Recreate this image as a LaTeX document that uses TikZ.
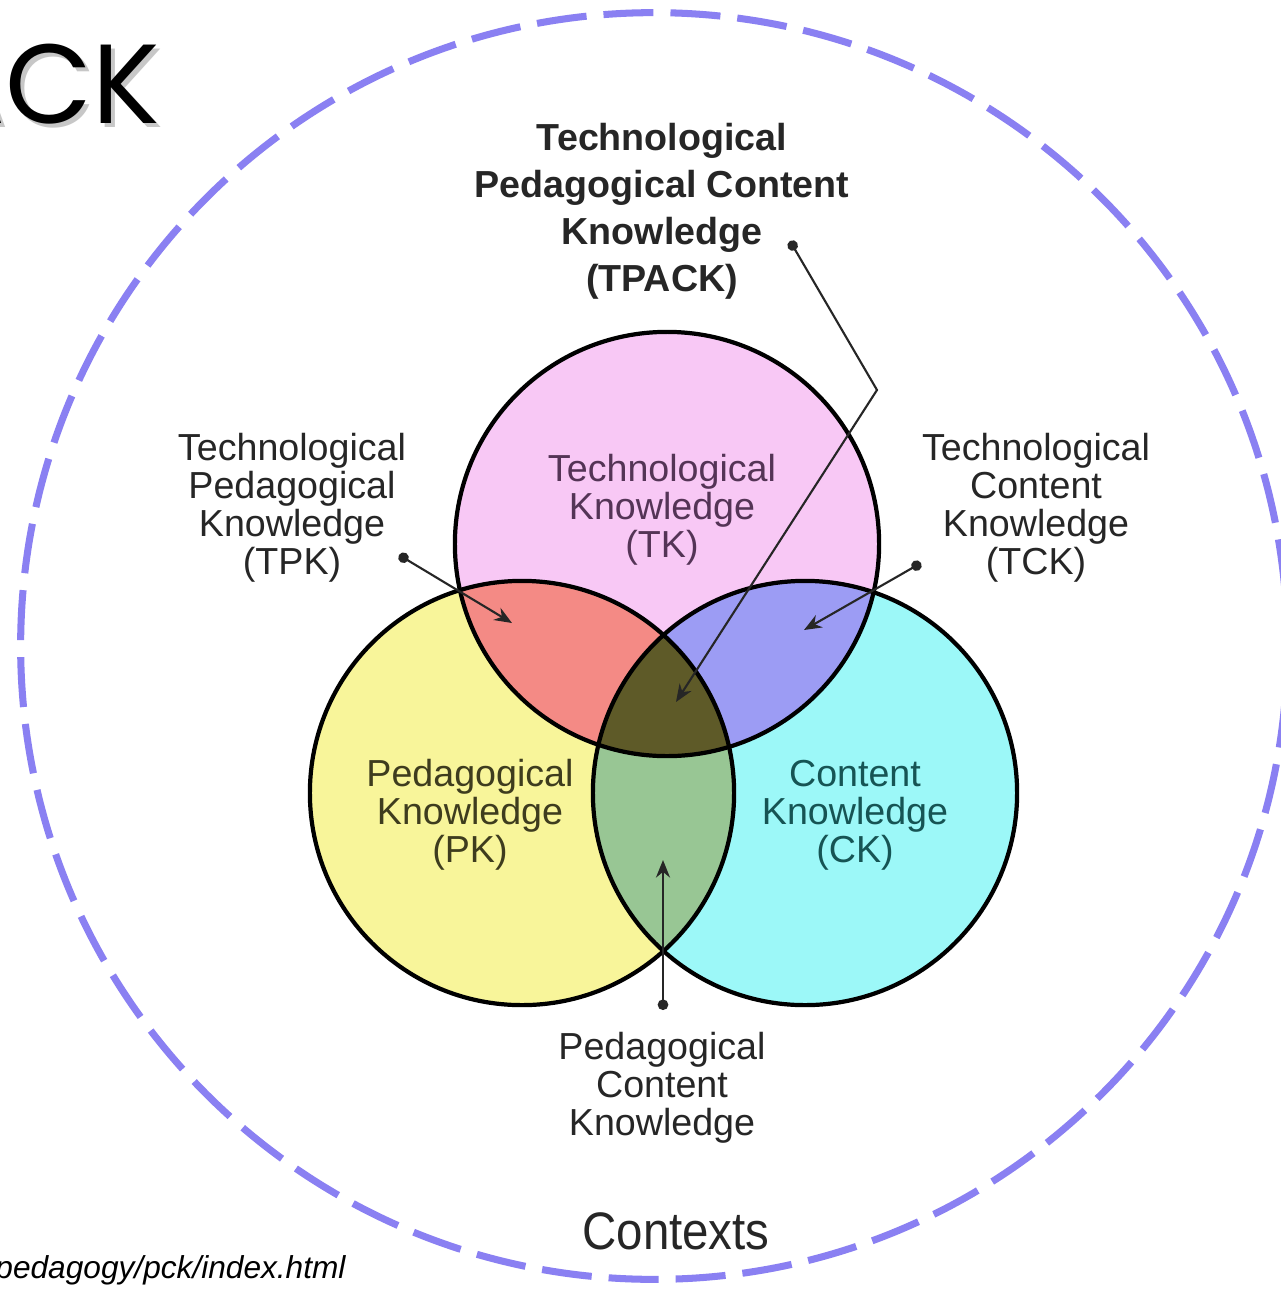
\documentclass[tikz,border=0pt]{standalone}
\usepackage{fontspec}
\setmainfont{Liberation Sans}
\newfontfamily\titlefont{Poppins}
\usetikzlibrary{arrows.meta}

\definecolor{tkpink}{HTML}{F8C8F5}
\definecolor{pkyellow}{HTML}{F8F59A}
\definecolor{ckcyan}{HTML}{9CF8F8}
\definecolor{tpkred}{HTML}{F48A85}
\definecolor{tckblue}{HTML}{9C9CF4}
\definecolor{pckgreen}{HTML}{98C694}
\definecolor{tpackolive}{HTML}{5E5A28}
\definecolor{ctxblue}{HTML}{8A80F2}

\begin{document}
\begin{tikzpicture}[x=0.01cm,y=-0.01cm]
\useasboundingbox (0,0) rectangle (1281,1290);
\fill[white] (0,0) rectangle (1281,1290);

% contexts ring
\draw[ctxblue,line width=2pt,dash pattern=on 0.5cm off 0.17cm,dash phase=0.1cm]
    (654,646) circle [radius=6.33cm];

% the three circles
\coordinate (tkc) at (667,544);
\coordinate (pkc) at (522,793);
\coordinate (ckc) at (805,793);
\fill[tkpink] (tkc) circle [radius=2.12cm];
\fill[pkyellow] (pkc) circle [radius=2.12cm];
\fill[ckcyan] (ckc) circle [radius=2.12cm];
\begin{scope}
    \clip (tkc) circle [radius=2.12cm];
    \fill[tpkred] (pkc) circle [radius=2.12cm];
    \fill[tckblue] (ckc) circle [radius=2.12cm];
\end{scope}
\begin{scope}
    \clip (pkc) circle [radius=2.12cm];
    \fill[pckgreen] (ckc) circle [radius=2.12cm];
\end{scope}
\begin{scope}
    \clip (tkc) circle [radius=2.12cm];
    \clip (pkc) circle [radius=2.12cm];
    \fill[tpackolive] (ckc) circle [radius=2.12cm];
\end{scope}
\begin{scope}[line width=1.2pt]
    \draw (tkc) circle [radius=2.12cm];
    \draw (pkc) circle [radius=2.12cm];
    \draw (ckc) circle [radius=2.12cm];
\end{scope}

% labels inside the circles
\begin{scope}[every node/.style={align=center,font=\fontsize{10.7}{10.8}\selectfont}]
    \node[text={rgb,255:red,84;green,52;blue,86}] (TK) at (662,510) {Technological\\Knowledge\\(TK)};
    \node[text={rgb,255:red,62;green,60;blue,30}] (PK) at (470,815) {Pedagogical\\Knowledge\\(PK)};
    \node[text={rgb,255:red,22;green,84;blue,84}] (CK) at (855,815) {Content\\Knowledge\\(CK)};
\end{scope}

% labels outside the circles
\begin{scope}[every node/.style={align=center,text=black!85,font=\fontsize{10.7}{10.8}\selectfont}]
    \node (TPK) at (292,508) {Technological\\Pedagogical\\Knowledge\\(TPK)};
    \node (TCK) at (1036,508) {Technological\\Content\\Knowledge\\(TCK)};
    \node (PCK) at (662,1088) {Pedagogical\\Content\\Knowledge};
    \node[font=\fontsize{10.7}{13.4}\selectfont\bfseries] (TPACK) at (662,211)
        {Technological\\Pedagogical Content\\Knowledge\\(TPACK)};
    \node[font=\fontsize{15}{16}\selectfont,xscale=0.9] (CTX) at (676,1231) {Contexts};
\end{scope}

% title and source, cut by the page edge
\node[font=\titlefont\fontsize{32}{34}\selectfont,anchor=base east,text=black!22,
      xshift=1.2pt,yshift=-1.2pt] (titleshade) at (172,123) {ACK};
\node[font=\titlefont\fontsize{32}{34}\selectfont,anchor=base east] (title) at (172,123) {ACK};
\node[font=\fontsize{9}{10}\selectfont\itshape,anchor=base east] (src) at (358,1278)
    {pedagogy/pck/index.html};

% pointers
\coordinate (tpackdot) at (790,241);
\coordinate (tpackbend) at (877,390);
\coordinate (tpacktip) at (676,702);
\coordinate (tpkdot) at (399,555);
\coordinate (tpktip) at (512,623);
\coordinate (tckdot) at (921,563);
\coordinate (tcktip) at (804,630);
\coordinate (pckdot) at (663,1010);
\coordinate (pcktip) at (663,860);
\begin{scope}[>={Stealth[length=5pt,width=4pt]},
              every edge/.style={draw=black!85,line width=0.6pt}]
    \draw [{Circle[length=3pt]}->,draw=black!85,line width=0.6pt]
        (tpackdot) -- (tpackbend) -- (tpacktip);
    \path [{Circle[length=3pt]}->] (tpkdot) edge (tpktip);
    \path [{Circle[length=3pt]}->] (tckdot) edge (tcktip);
    \path [{Circle[length=3pt]}->] (pckdot) edge (pcktip);
\end{scope}
\end{tikzpicture}
\end{document}
